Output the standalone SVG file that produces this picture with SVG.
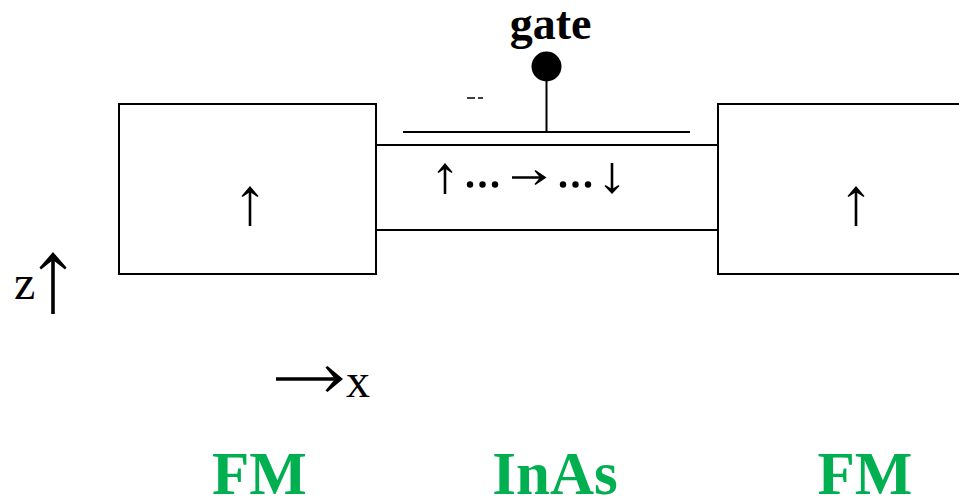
<svg xmlns="http://www.w3.org/2000/svg" width="959" height="498" viewBox="0 0 959 498">
<style>
text{font-family:"Liberation Serif","Times New Roman",serif;fill:#000}
.l{fill:none;stroke:#000;stroke-width:2}
.s{fill:none;stroke:#000;stroke-width:2.600}
.s3{fill:none;stroke:#000;stroke-width:3.600}
.g{font-weight:bold;font-size:61px;fill:#00b050;text-anchor:middle}
.t{font-size:48px}
</style>
<rect width="959" height="498" fill="#fff"/>
<g id="fm-left"><rect class="l" x="119" y="104" width="257" height="170"/>
<path class="s" d="M250 226V190"/><path d="M250 186L258.500 196L257.500 197L250 192L242.500 197L241.500 196Z"/></g>
<g id="fm-right"><path class="l" d="M959 104H718V274H959"/>
<path class="s" d="M856 226V190"/><path d="M856 186L864.500 196L863.500 197L856 192L848.500 197L847.500 196Z"/></g>
<g id="channel"><path class="l" d="M376 145H718M376 230H718"/>
<path class="s" d="M445 194V166M512 177.500H543M612 163V191"/>
<path d="M445 163L452.500 172L451.500 173L445 168.500L438.500 173L437.500 172Z"/>
<path d="M546.500 177.500L535.500 185L534.500 184L540 177.500L534.500 171L535.500 170Z"/>
<path d="M612 194L604.500 186L605.500 185L612 189L618.500 185L619.500 186Z"/>
<g><circle cx="470" cy="184.500" r="3.200"/><circle cx="482.500" cy="184.500" r="3.200"/><circle cx="495" cy="184.500" r="3.200"/><circle cx="563" cy="184.500" r="3.200"/><circle cx="575.500" cy="184.500" r="3.200"/><circle cx="588" cy="184.500" r="3.200"/></g></g>
<g id="gate"><text x="550.500" y="39" font-size="46" font-weight="bold" text-anchor="middle">gate</text>
<circle cx="546.500" cy="66.500" r="15"/>
<path class="l" d="M546.500 80V132M403 132H690"/>
<path d="M467 98H475M478 98H483" stroke="#000" stroke-width="1.500"/></g>
<g id="axes"><path class="s3" d="M53 314V258"/><path d="M53 252L66.500 267.500L65 269.500L53 260L41 269.500L39.500 267.500Z"/>
<path class="s3" d="M276 379H336"/><path d="M343 379L327.500 392L325.500 390.500L335 379L325.500 367.500L327.500 366Z"/>
<text class="t" x="14" y="299">z</text><text class="t" x="346" y="397">x</text></g>
<g id="labels"><text class="g" x="259.500" y="494">FM</text><text class="g" x="555" y="494">InAs</text><text class="g" x="865" y="494">FM</text></g>
</svg>
